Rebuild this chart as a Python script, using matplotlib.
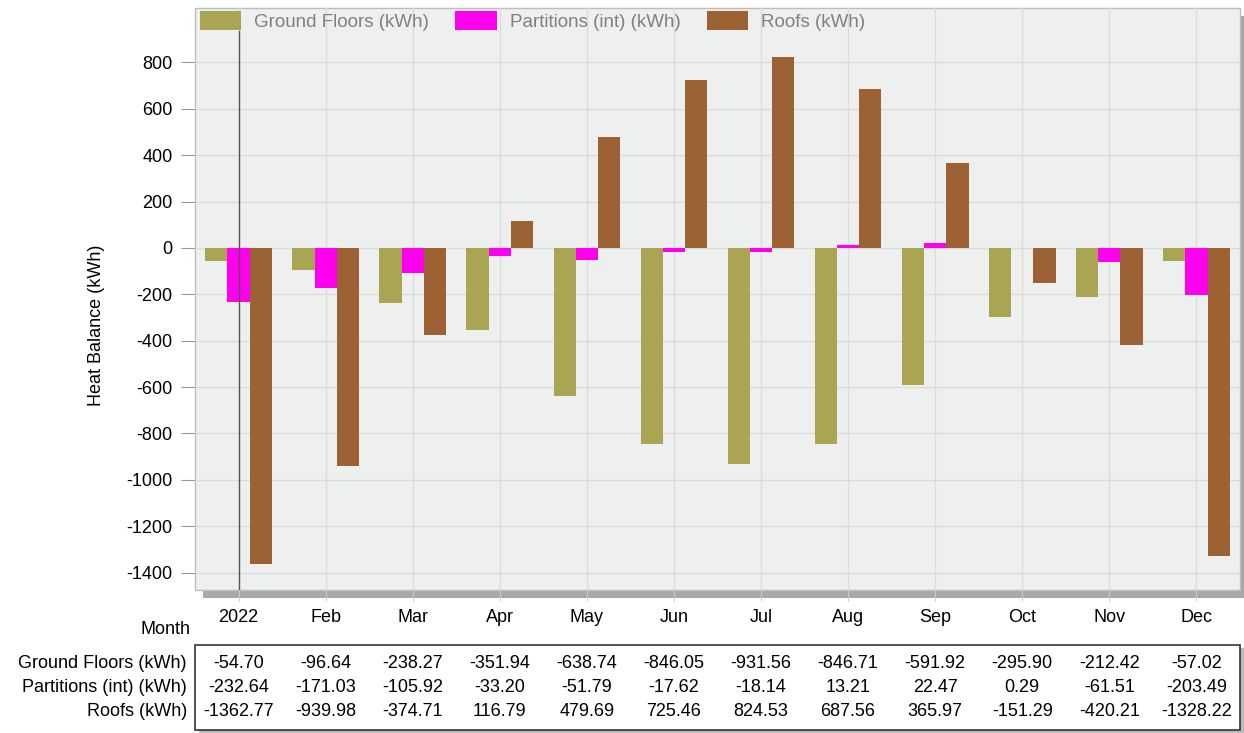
import matplotlib
matplotlib.use("Agg")
import matplotlib.pyplot as plt
from matplotlib.patches import Rectangle
from matplotlib.transforms import blended_transform_factory
import numpy as np

plt.rcParams['font.family'] = ['Liberation Sans', 'DejaVu Sans']

months = ["2022", "Feb", "Mar", "Apr", "May", "Jun", "Jul", "Aug", "Sep", "Oct", "Nov", "Dec"]
series_names = ["Ground Floors (kWh)", "Partitions (int) (kWh)", "Roofs (kWh)"]
ground_floors = [-54.70, -96.64, -238.27, -351.94, -638.74, -846.05, -931.56, -846.71, -591.92, -295.90, -212.42, -57.02]
partitions = [-232.64, -171.03, -105.92, -33.20, -51.79, -17.62, -18.14, 13.21, 22.47, 0.29, -61.51, -203.49]
roofs = [-1362.77, -939.98, -374.71, 116.79, 479.69, 725.46, 824.53, 687.56, 365.97, -151.29, -420.21, -1328.22]
yticks = [800, 600, 400, 200, 0, -200, -400, -600, -800, -1000, -1200, -1400]

colors = ["#aaa553", "#ff00ee", "#9c6233"]
series = [ground_floors, partitions, roofs]

W, H = 1244, 733
fig = plt.figure(figsize=(W / 100, H / 100), dpi=100)
fig.patch.set_facecolor("white")

L, R, T, B = 195, 1240, 8, 590
ax = fig.add_axes([L / W, 1 - B / H, (R - L) / W, (B - T) / H])

# shadow for plot area
fig.patches.append(Rectangle(((L + 8) / W, 1 - (B + 8) / H), (R - L) / W, (B - T) / H,
                             transform=fig.transFigure, facecolor="#a9a9a9", edgecolor="none", zorder=-2))
fig.patches.append(Rectangle((L / W, 1 - B / H), (R - L) / W, (B - T) / H,
                             transform=fig.transFigure, facecolor="#eef0f0", edgecolor="#bdbdbd", lw=1, zorder=-1))
ax.set_facecolor("none")

x = np.arange(len(months))
bw = 0.255
for i, (vals, c, name) in enumerate(zip(series, colors, series_names)):
    ax.bar(x + (i - 1) * bw, vals, width=bw, color=c, label=name, zorder=3)

ax.set_xlim(-0.5, 11.5)
ax.set_ylim(-1475, 1035)
ax.set_yticks(yticks)
ax.set_yticklabels([str(v) for v in yticks], fontsize=13)
ax.set_xticks(x)
ax.set_xticklabels(months, fontsize=13)
ax.tick_params(axis='y', length=10, color="#999999", pad=6)
ax.tick_params(axis='x', length=8, color="#cccccc", pad=6)
for s in ax.spines.values():
    s.set_visible(False)
ax.grid(True, color="#dadcdc", lw=1, zorder=0)
ax.set_axisbelow(True)
ax.set_ylabel("Heat Balance (kWh)", fontsize=13)
ax.yaxis.set_label_coords(-0.086, 0.455)

# cursor line
ax.axvline(0, ymin=0, ymax=0.96, color="#555555", lw=1, zorder=4)

leg = ax.legend(loc="upper left", ncol=3, frameon=False, fontsize=13.5, handlelength=2.2, handleheight=1.2,
                bbox_to_anchor=(-0.006, 1.014), columnspacing=1.4, handletextpad=0.7, borderaxespad=0.2)
for t in leg.get_texts():
    t.set_color("#808080")

# Month label
fig.text(190 / W, 1 - 629 / H, "Month", fontsize=13, ha="right", va="center")

# data table
tb_top, tb_bot = 645, 730
fig.patches.append(Rectangle(((L + 4) / W, 1 - (tb_bot + 3) / H), (R - L) / W, (tb_bot - tb_top) / H,
                             transform=fig.transFigure, facecolor="#bbbbbb", edgecolor="none", zorder=-2))
fig.patches.append(Rectangle((L / W, 1 - tb_bot / H), (R - L) / W, (tb_bot - tb_top) / H,
                             transform=fig.transFigure, facecolor="white", edgecolor="#333333", lw=1.2, zorder=-1))
trans = blended_transform_factory(ax.transData, fig.transFigure)
row_y = [663, 687, 711]
for name, vals, ry in zip(series_names, series, row_y):
    fig.text(187 / W, 1 - ry / H, name, fontsize=13, ha="right", va="center")
    for xi, v in zip(x, vals):
        ax.text(xi, 1 - ry / H, f"{v:.2f}", transform=trans, fontsize=13, ha="center", va="center", clip_on=False)

fig.savefig("out.png", dpi=100)
